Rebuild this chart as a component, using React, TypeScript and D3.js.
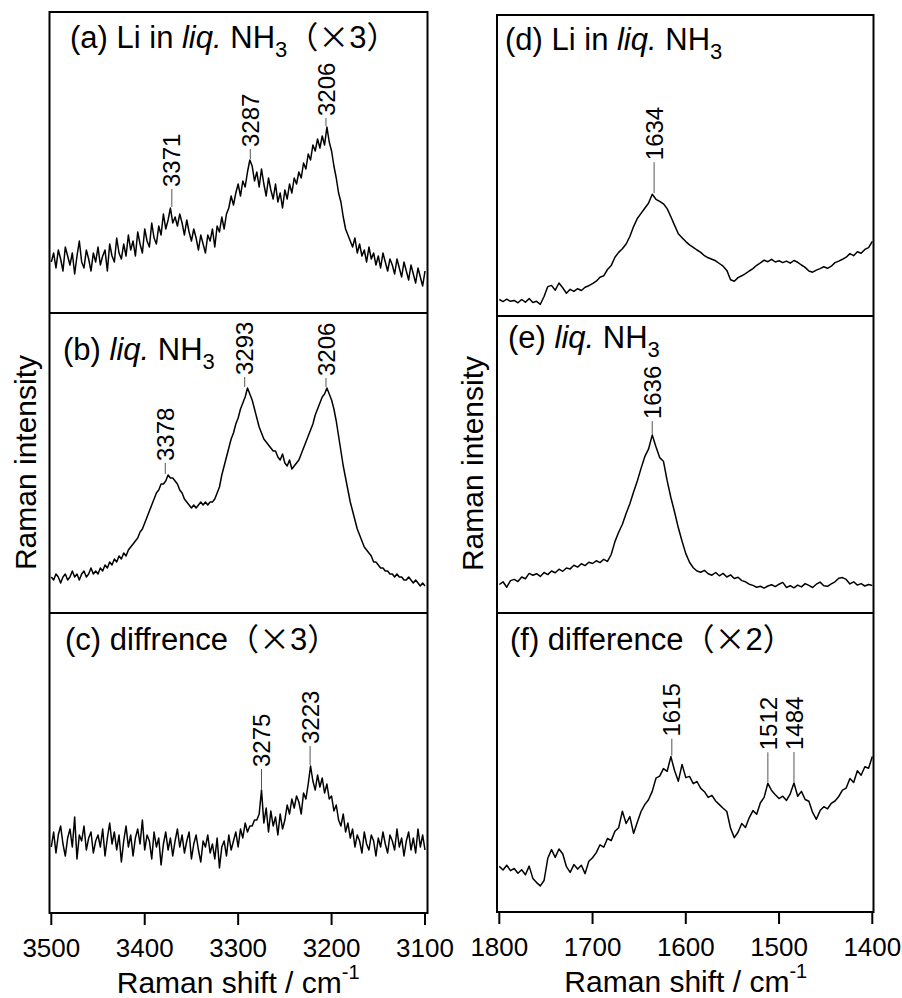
import React from "react";
import * as d3 from "d3";

const FONT = "'Liberation Sans', Arial, Helvetica, 'Noto Sans CJK JP', sans-serif";
const CJK = "'Noto Sans CJK JP', 'Noto Sans CJK SC', sans-serif";

// wavenumber grids of the two windows (cm-1): first point and spacing
const nhStart = 3500;
const nhStep = 2.5;
const bendStart = 1800;
const bendStep = 4;

// N-H stretching region, 3500 -> 3100
const specA = [
  17, 20, 15, 21, 18, 14, 22, 19, 16, 20,
  13, 19, 24, 17, 15, 21, 18, 14, 20, 17,
  22, 16, 19, 21, 14, 23, 19, 17, 25, 20,
  18, 23, 19, 26, 21, 24, 19, 27, 23, 20,
  28, 24, 22, 30, 25, 23, 29, 26, 33, 28,
  31, 35, 30, 32, 29, 33, 30, 26, 31, 27,
  24, 28, 25, 21, 26, 23, 20, 26, 24, 28,
  22, 29, 27, 32, 28, 33, 35, 39, 36, 40,
  43, 39, 44, 42, 47, 51, 49, 44, 47, 42,
  48, 43, 39, 45, 41, 38, 43, 37, 40, 35,
  41, 38, 43, 40, 45, 43, 47, 45, 50, 48,
  53, 51, 56, 54, 58, 55, 59, 56, 62, 57,
  54, 49, 45, 40, 37, 32, 28, 26, 24, 22,
  25, 20, 23, 19, 21, 17, 22, 18, 20, 16,
  19, 15, 20, 17, 14, 18, 16, 13, 18, 15,
  12, 17, 14, 11, 16, 13, 10, 15, 12, 9,
  14,
];
const specB = [
  12, 11, 13, 12, 10, 12, 13, 11, 12, 14,
  12, 13, 11, 13, 14, 12, 13, 15, 13, 14,
  13, 15, 14, 16, 15, 17, 16, 18, 17, 19,
  18, 20, 19, 21, 22, 23, 24, 25, 27, 28,
  30, 32, 34, 36, 38, 40, 41, 43, 43, 44,
  46, 45, 45, 44, 43, 41, 40, 38, 37, 36,
  35, 36, 35, 36, 37, 36, 37, 36, 37, 37,
  38, 40, 42, 46, 49, 52, 55, 58, 60, 63,
  65, 68, 70, 72, 75, 73, 71, 68, 65, 62,
  60, 58, 57, 56, 55, 54, 54, 52, 51, 53,
  50, 49, 51, 48, 49, 50, 51, 53, 55, 57,
  59, 61, 63, 66, 68, 70, 72, 73, 75, 73,
  71, 68, 64, 59, 54, 49, 45, 41, 37, 34,
  31, 28, 26, 24, 22, 21, 20, 19, 17, 17,
  16, 15, 15, 14, 14, 13, 13, 12, 13, 12,
  12, 11, 11, 12, 11, 10, 11, 10, 9, 10,
  9,
];
const specC = [
  22, 27, 20, 26, 29, 23, 19, 25, 28, 22,
  32, 18, 26, 24, 29, 21, 25, 27, 20, 24,
  26, 22, 28, 19, 25, 30, 23, 27, 21, 26,
  17, 24, 29, 22, 26, 19, 25, 28, 23, 31,
  21, 26, 24, 18, 27, 22, 25, 16, 23, 27,
  21, 25, 19, 24, 28, 22, 26, 20, 24, 27,
  18, 23, 26, 21, 17, 24, 22, 26, 20, 23,
  18, 25, 15, 22, 24, 19, 26, 21, 24, 27,
  22, 28, 25, 30, 27, 29, 29, 31, 31, 33,
  41, 30, 35, 27, 34, 29, 32, 26, 33, 28,
  31, 36, 33, 38, 35, 39, 37, 33, 40, 38,
  43, 49, 44, 41, 46, 42, 45, 40, 43, 38,
  39, 34, 36, 31, 29, 33, 27, 30, 25, 28,
  22, 26, 24, 20, 27, 23, 21, 26, 24, 19,
  25, 22, 27, 23, 20, 26, 24, 21, 28, 22,
  25, 19, 24, 27, 21, 25, 20, 28, 22, 26,
  21,
];

// bending region, 1800 -> 1400
const specD = [
  5.5, 4.8, 5.6, 4.9, 5.2, 4.4, 5.5, 4.6, 5.8, 4.5,
  4.9, 3.9, 6.5, 9.8, 10.2, 8.6, 11.0, 9.4, 7.6, 8.9,
  8.2, 9.1, 8.5, 9.6, 10.1, 10.8, 11.6, 12.9, 13.4, 15.5,
  16.8, 19.6, 21.2, 22.4, 24.0, 26.5, 29.8, 32.5, 34.2, 35.9,
  37.6, 40.6, 38.9, 38.2, 37.4, 35.8, 33.1, 30.2, 27.4, 26.1,
  24.8, 23.7, 22.9, 22.0, 21.2, 20.1, 19.4, 18.9, 18.4, 17.5,
  16.6, 15.2, 12.1, 11.6, 12.8, 13.4, 14.1, 15.0, 15.8, 16.9,
  17.7, 18.6, 18.1, 18.9, 18.0, 18.4, 17.8, 18.3, 17.6, 18.5,
  17.9, 17.0, 16.2, 15.0, 14.6, 15.3, 15.8, 16.4, 15.9, 16.6,
  17.8, 18.3, 18.9, 19.6, 20.8, 20.1, 21.4, 20.9, 22.2, 22.8,
  24.9,
];
const specE = [
  9.5, 10.4, 8.6, 10.8, 11.2, 10.5, 12.0, 11.4, 13.2, 12.6,
  13.1, 12.2, 13.5, 12.8, 14.0, 13.4, 14.6, 13.9, 15.0, 14.7,
  15.9, 15.3, 16.4, 15.8, 16.9, 16.5, 17.4, 16.8, 17.9, 17.2,
  19.5, 23.8, 26.9, 29.6, 33.2, 36.4, 40.3, 44.0, 48.2, 52.1,
  54.6, 59.3, 55.4, 51.8, 50.6, 44.1, 38.5, 33.6, 28.4, 23.9,
  19.8, 16.9, 15.1, 14.0, 13.6, 14.2, 13.1, 12.6, 13.5, 12.4,
  13.2, 12.0, 12.7, 11.5, 11.9, 10.8, 10.4, 9.6, 9.2, 8.6,
  8.9, 8.3, 9.0, 9.4, 8.8, 9.6, 10.2, 8.5, 9.1, 8.4,
  9.3, 8.7, 9.8, 9.2, 8.5, 9.6, 10.3, 9.1, 8.9, 9.7,
  10.4, 11.6, 11.8, 11.2, 9.7, 10.4, 9.3, 9.8, 9.0, 9.5,
  9.2,
];
const specF = [
  15.2, 14.0, 15.6, 13.8, 14.5, 12.9, 14.1, 12.4, 15.3, 11.2,
  9.8, 8.7, 10.5, 17.9, 20.8, 18.2, 21.0, 19.4, 15.1, 13.2,
  15.8, 14.3, 15.6, 12.8, 16.9, 18.1, 19.8, 22.4, 21.6, 24.5,
  23.8, 26.9, 28.1, 33.6, 29.5, 31.8, 26.2, 29.9, 33.5, 35.8,
  37.4, 40.2, 44.6, 45.3, 47.8, 46.9, 51.8, 47.1, 43.6, 49.2,
  44.8, 45.2, 42.8, 43.5, 41.2, 40.1, 38.2, 38.9, 37.0, 35.8,
  34.6, 33.5, 27.9, 24.8, 26.6, 29.5, 28.2, 31.4, 33.8, 32.6,
  36.4, 38.2, 42.9, 40.5, 39.1, 37.8, 38.6, 37.2, 39.4, 43.0,
  38.6, 40.2, 37.5, 36.9, 33.2, 30.9, 33.8, 35.1, 34.4, 36.2,
  37.0, 38.5, 40.6, 41.3, 44.5, 43.2, 47.1, 45.6, 48.4, 47.9,
  51.8,
];

// labelled peak positions
const peaksA = [3371, 3287, 3206];
const peaksB = [3378, 3293, 3206];
const peaksC = [3275, 3223];
const peaksD = [1634];
const peaksE = [1636];
const peaksF = [1615, 1512, 1484];

const ticksNH = [3500, 3400, 3300, 3200, 3100];
const ticksBend = [1800, 1700, 1600, 1500, 1400];

type Seg = { t: string; it?: boolean; sub?: boolean; cjk?: boolean };

const cols = [
  { domain: [3500, 3100], range: [51.3, 425], frame: [49.5, 427.5], rows: [12, 313, 613, 913],
    start: nhStart, step: nhStep, ticks: ticksNH, ylabX: 36 },
  { domain: [1800, 1400], range: [499.3, 872.3], frame: [497, 873.5], rows: [15, 316, 613, 912],
    start: bendStart, step: bendStep, ticks: ticksBend, ylabX: 483 },
];

const times = (n: string): Seg[] => [{ t: "（", cjk: true }, { t: "×", cjk: true }, { t: n }, { t: "）", cjk: true }];

const panels = [
  { col: 0, row: 0, values: specA, peaks: peaksA, leads: [18, 10, 8], tx: 70, ty: 36,
    title: [{ t: "(a) Li in " }, { t: "liq.", it: true }, { t: " NH" }, { t: "3", sub: true }, ...times("3")] as Seg[] },
  { col: 0, row: 1, values: specB, peaks: peaksB, leads: [11, 10, 9], tx: 63, ty: 47,
    title: [{ t: "(b) " }, { t: "liq.", it: true }, { t: " NH" }, { t: "3", sub: true }] as Seg[] },
  { col: 0, row: 2, values: specC, peaks: peaksC, leads: [20, 19], tx: 65, ty: 37,
    title: [{ t: "(c) diffrence" }, ...times("3")] as Seg[] },
  { col: 1, row: 0, values: specD, peaks: peaksD, leads: [31], tx: 505, ty: 35,
    title: [{ t: "(d) Li in " }, { t: "liq.", it: true }, { t: " NH" }, { t: "3", sub: true }] as Seg[] },
  { col: 1, row: 1, values: specE, peaks: peaksE, leads: [13], tx: 508, ty: 32,
    title: [{ t: "(e) " }, { t: "liq.", it: true }, { t: " NH" }, { t: "3", sub: true }] as Seg[] },
  { col: 1, row: 2, values: specF, peaks: peaksF, leads: [17, 30, 30], tx: 510, ty: 37,
    title: [{ t: "(f) difference" }, ...times("2")] as Seg[] },
];

function Title({ segs, x, y }: { segs: Seg[]; x: number; y: number }) {
  return (
    <text x={x} y={y} fontSize={31} fontFamily={FONT} fill="#000">
      {segs.map((s, k) => {
        const prevSub = k > 0 && segs[k - 1].sub;
        const dy = s.sub ? 9 : prevSub ? -9 : undefined;
        return (
          <tspan key={k} dy={dy} fontSize={s.sub ? 22 : undefined}
            fontStyle={s.it ? "italic" : undefined} fontFamily={s.cjk ? CJK : undefined}>
            {s.t}
          </tspan>
        );
      })}
    </text>
  );
}

function Panel({ p }: { p: (typeof panels)[number] }) {
  const c = cols[p.col];
  const top = c.rows[p.row];
  const bottom = c.rows[p.row + 1];
  const x = d3.scaleLinear().domain(c.domain).range(c.range);
  const y = d3.scaleLinear().domain([0, 100]).range([bottom, bottom - 300]);
  const pts: [number, number][] = p.values.map((v, i) => [c.start - i * c.step, v]);
  const line = d3.line<[number, number]>().x((d) => x(d[0])).y((d) => y(d[1]));

  return (
    <g>
      <Title segs={p.title} x={p.tx} y={top + p.ty} />
      <path d={line(pts) || ""} fill="none" stroke="#000" strokeWidth={1.5} strokeLinejoin="round" />
      {p.peaks.map((pk, k) => {
        const near = pts.filter((d) => Math.abs(d[0] - pk) <= c.step * 1.25);
        const yPeak = y(d3.max(near, (d) => d[1]) ?? 0) - 1;
        const yTop = yPeak - p.leads[k];
        const px = x(pk);
        return (
          <g key={pk}>
            <line x1={px} x2={px} y1={yPeak} y2={yTop} stroke="#555" strokeWidth={1} />
            <text
              transform={`translate(${px},${yTop - 2}) rotate(-90)`}
              dy="0.36em"
              fontSize={24}
              fontFamily={FONT}
            >
              {pk}
            </text>
          </g>
        );
      })}
    </g>
  );
}

export default function App() {
  return (
    <svg width={902} height={998} style={{ position: "absolute", left: 0, top: 0, background: "#fff" }}>
      {cols.map((c, ci) => {
        const x = d3.scaleLinear().domain(c.domain).range(c.range);
        const bottom = c.rows[3];
        const cx = (c.range[0] + c.range[1]) / 2;
        return (
          <g key={ci}>
            <rect x={c.frame[0]} y={c.rows[0]} width={c.frame[1] - c.frame[0]} height={bottom - c.rows[0]}
              fill="none" stroke="#000" strokeWidth={2} />
            {c.rows.slice(1, 3).map((r) => (
              <line key={r} x1={c.frame[0]} x2={c.frame[1]} y1={r} y2={r} stroke="#000" strokeWidth={2} />
            ))}
            {c.ticks.map((t) => (
              <g key={t}>
                <line x1={x(t)} x2={x(t)} y1={bottom} y2={bottom + 12} stroke="#000" strokeWidth={2} />
                <text x={x(t)} y={bottom + 44} textAnchor="middle" fontSize={26} fontFamily={FONT}>
                  {t}
                </text>
              </g>
            ))}
            <text x={cx} y={bottom + 80} textAnchor="middle" fontSize={30} fontFamily={FONT}>
              Raman shift / cm<tspan dy={-14} fontSize={20}>-1</tspan>
            </text>
            <text transform={`translate(${c.ylabX},${(c.rows[0] + bottom) / 2}) rotate(-90)`}
              textAnchor="middle" fontSize={30} fontFamily={FONT}>
              Raman intensity
            </text>
          </g>
        );
      })}
      {panels.map((p, i) => (
        <Panel key={i} p={p} />
      ))}
    </svg>
  );
}
